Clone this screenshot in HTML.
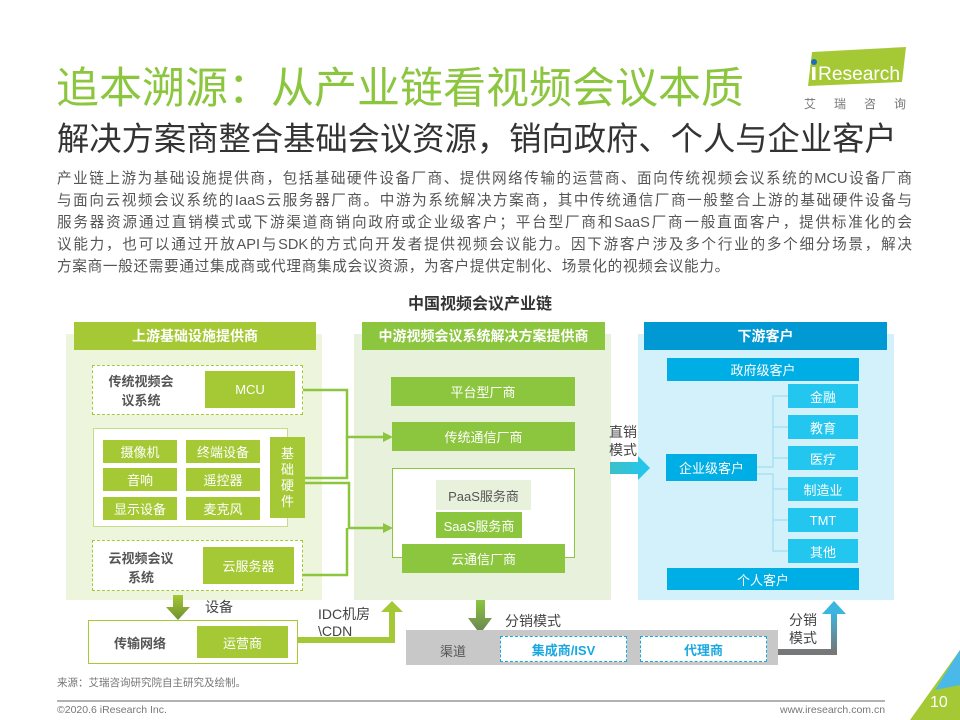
<!DOCTYPE html>
<html><head><meta charset="utf-8">
<style>
*{margin:0;padding:0;box-sizing:border-box}
body{width:960px;height:720px;position:relative;overflow:hidden;background:#fff;font-family:"Liberation Sans","Noto Sans CJK SC",sans-serif}
.a{position:absolute}
.b{position:absolute;display:flex;align-items:center;justify-content:center;color:#fff;font-size:13px;text-align:center}
.g1{background:#a5c935}
.g2{background:#8cc63f}
.bl{background:#00aee6}
.bl2{background:#22c6ef}
.t{position:absolute;color:#555;font-size:13px;font-weight:bold;text-align:center;line-height:19px}
.p div{text-align:justify;text-align-last:justify;white-space:nowrap;height:22px}
</style></head><body>
<div class="a" style="left:56px;top:54px;font-size:43px;color:#8cc63f;white-space:nowrap">追本溯源：从产业链看视频会议本质</div>
<div class="a" style="left:57px;top:114px;font-size:32.3px;color:#333;white-space:nowrap">解决方案商整合基础会议资源，销向政府、个人与企业客户</div>
<!-- logo -->
<svg class="a" style="left:790px;top:44px" width="130" height="70">
<polygon points="22,8 116,3 112,38 18,42" fill="#a5c935"/>
<circle cx="24" cy="18" r="3" fill="#1e6fb5"/>
<rect x="22" y="23" width="3.5" height="13" fill="#fff"/>
<text x="28" y="36" font-family="Liberation Sans" font-size="19" fill="#fff" textLength="82" lengthAdjust="spacingAndGlyphs">Research</text>
<text x="14" y="64" font-family="Noto Sans CJK SC" font-size="12" fill="#777" letter-spacing="18">艾瑞咨询</text>
</svg>
<div class="a p" style="left:57px;top:168px;width:855px;font-size:14.6px;line-height:22px;color:#555">
<div>产业链上游为基础设施提供商，包括基础硬件设备厂商、提供网络传输的运营商、面向传统视频会议系统的MCU设备厂商</div>
<div>与面向云视频会议系统的IaaS云服务器厂商。中游为系统解决方案商，其中传统通信厂商一般整合上游的基础硬件设备与</div>
<div>服务器资源通过直销模式或下游渠道商销向政府或企业级客户；平台型厂商和SaaS厂商一般直面客户，提供标准化的会</div>
<div>议能力，也可以通过开放API与SDK的方式向开发者提供视频会议能力。因下游客户涉及多个行业的多个细分场景，解决</div>
<div style="text-align-last:left;letter-spacing:0.7px">方案商一般还需要通过集成商或代理商集成会议资源，为客户提供定制化、场景化的视频会议能力。</div>
</div>
<div class="a" style="left:0;width:960px;top:290px;text-align:center;font-size:16px;font-weight:bold;color:#333">中国视频会议产业链</div>

<div class="a" style="left:66px;top:334px;width:256px;height:266px;background:#eef5dd"></div>
<div class="b g1" style="left:74px;top:322px;width:242px;height:28px;font-weight:bold;font-size:14px">上游基础设施提供商</div>
<div class="a" style="left:354px;top:334px;width:257px;height:266px;background:#e8f1dc"></div>
<div class="b g2" style="left:362px;top:322px;width:243px;height:28px;font-weight:bold;font-size:14px">中游视频会议系统解决方案提供商</div>
<div class="a" style="left:638px;top:334px;width:256px;height:266px;background:#d2f1fb"></div>
<div class="b" style="left:644px;top:322px;width:243px;height:28px;background:#0099d4;font-weight:bold;font-size:14px">下游客户</div>

<svg class="a" style="left:0;top:0" width="960" height="720">
<g stroke="#8cc63f" stroke-width="2.5" fill="none">
<polyline points="303,390 347,390 347,437 390,437"/>
<polyline points="305,478 347,478 347,437"/>
<polyline points="305,483 349,483 349,528 390,528"/>
<polyline points="303,575 347,575 347,528"/>
</g>
<polygon points="393,437 383,432 383,442" fill="#8cc63f"/>
<polygon points="393,528 383,523 383,533" fill="#8cc63f"/>
<defs>
<linearGradient id="gd" x1="0" y1="0" x2="0" y2="1"><stop offset="0" stop-color="#a5c935"/><stop offset="1" stop-color="#6f8f30"/></linearGradient>
<linearGradient id="gm" x1="0" y1="0" x2="0" y2="1"><stop offset="0" stop-color="#8cc63f"/><stop offset="1" stop-color="#6a7f55"/></linearGradient>
<linearGradient id="gr" x1="0" y1="0" x2="1" y2="0"><stop offset="0" stop-color="#3cc0c8"/><stop offset="1" stop-color="#22c6ef"/></linearGradient>
<linearGradient id="gu" x1="0" y1="1" x2="0" y2="0"><stop offset="0" stop-color="#777"/><stop offset="1" stop-color="#3ab6e0"/></linearGradient>
</defs>
<polygon points="173,595 183,595 183,607 190,607 178,620 166,607 173,607" fill="url(#gd)"/>
<polyline points="298,640 392,640 392,605" stroke="#a5c935" stroke-width="6" fill="none"/>
<polygon points="392,601 381,612 403,612" fill="#a5c935"/>
<polygon points="476,600 485,600 485,618 492,618 480,634 468,618 476,618" fill="url(#gm)"/>
<polygon points="610,462 638,462 638,456 650,468 638,480 638,474 610,474" fill="url(#gr)"/>
<polyline points="778,652 834,652 834,612" stroke="url(#gu)" stroke-width="6" fill="none"/>
<polygon points="834,601 822,614 846,614" fill="#3ab6e0"/>
<g stroke="#a8e3f3" stroke-width="1.5" fill="none">
<polyline points="757,467 773,467 773,396 788,396"/>
<polyline points="757,474 773,474 773,551 788,551"/>
<line x1="773" y1="427" x2="788" y2="427"/><line x1="773" y1="458" x2="788" y2="458"/>
<line x1="773" y1="489" x2="788" y2="489"/><line x1="773" y1="520" x2="788" y2="520"/>
</g>
<polygon points="960,650 960,720 910,720" fill="#a5c935"/>
<polygon points="960,650 935,690 960,685" fill="#4ab8e8"/>
<line x1="57" y1="701" x2="885" y2="701" stroke="#999" stroke-width="1.5"/>
</svg>

<div class="a" style="left:92px;top:365px;width:211px;height:50px;border:1.5px dashed #a5c935;background:#fff"></div>
<div class="t" style="left:100px;top:372px;width:82px">传统视频会<br>议系统</div>
<div class="b g1" style="left:205px;top:371px;width:90px;height:37px">MCU</div>
<div class="a" style="left:93px;top:428px;width:195px;height:99px;border:1.5px solid #c6dc8a;background:#fff"></div>
<div class="b g1" style="left:103px;top:440px;width:74px;height:23px">摄像机</div>
<div class="b g1" style="left:186px;top:440px;width:74px;height:23px">终端设备</div>
<div class="b g1" style="left:103px;top:468px;width:74px;height:23px">音响</div>
<div class="b g1" style="left:186px;top:468px;width:74px;height:23px">遥控器</div>
<div class="b g1" style="left:103px;top:497px;width:74px;height:23px">显示设备</div>
<div class="b g1" style="left:186px;top:497px;width:74px;height:23px">麦克风</div>
<div class="b g1" style="left:270px;top:437px;width:35px;height:81px;line-height:16px">基<br>础<br>硬<br>件</div>
<div class="a" style="left:92px;top:540px;width:211px;height:51px;border:1.5px dashed #a5c935;background:#fff"></div>
<div class="t" style="left:100px;top:549px;width:82px">云视频会议<br>系统</div>
<div class="b g1" style="left:203px;top:547px;width:91px;height:37px">云服务器</div>
<div class="a" style="left:205px;top:597px;font-size:14px;color:#444">设备</div>
<div class="a" style="left:88px;top:620px;width:210px;height:44px;border:1.5px solid #a5c935;background:#fff"></div>
<div class="t" style="left:100px;top:634px;width:80px">传输网络</div>
<div class="b g1" style="left:197px;top:626px;width:91px;height:32px">运营商</div>
<div class="a" style="left:318px;top:606px;font-size:14px;color:#444;line-height:17px">IDC机房<br>\CDN</div>

<div class="b g2" style="left:391px;top:377px;width:184px;height:29px">平台型厂商</div>
<div class="b g2" style="left:392px;top:422px;width:183px;height:29px">传统通信厂商</div>
<div class="a" style="left:392px;top:468px;width:183px;height:90px;border:1.5px solid #8cc63f;background:#fff"></div>
<div class="b" style="left:436px;top:480px;width:95px;height:30px;background:#e8f1dc;color:#555">PaaS服务商</div>
<div class="b g2" style="left:436px;top:512px;width:86px;height:26px">SaaS服务商</div>
<div class="b g2" style="left:402px;top:544px;width:163px;height:29px">云通信厂商</div>
<div class="a" style="left:609px;top:423px;font-size:14px;color:#444;line-height:18px">直销<br>模式</div>
<div class="a" style="left:505px;top:611px;font-size:14px;color:#444">分销模式</div>

<div class="a" style="left:406px;top:630px;width:372px;height:35px;background:#c8c8c8"></div>
<div class="a" style="left:440px;top:641px;font-size:13px;color:#555">渠道</div>
<div class="b" style="left:500px;top:636px;width:127px;height:26px;background:#fff;border:1.5px dashed #1aa8e0;color:#1aa8e0;font-weight:bold">集成商/ISV</div>
<div class="b" style="left:640px;top:636px;width:127px;height:26px;background:#fff;border:1.5px dashed #1aa8e0;color:#1aa8e0;font-weight:bold">代理商</div>
<div class="a" style="left:789px;top:611px;font-size:14px;color:#444;line-height:18px">分销<br>模式</div>

<div class="b bl" style="left:667px;top:358px;width:192px;height:23px">政府级客户</div>
<div class="b bl2" style="left:788px;top:384px;width:70px;height:24px">金融</div>
<div class="b bl2" style="left:788px;top:415px;width:70px;height:24px">教育</div>
<div class="b bl2" style="left:788px;top:446px;width:70px;height:24px">医疗</div>
<div class="b bl2" style="left:788px;top:477px;width:70px;height:24px">制造业</div>
<div class="b bl2" style="left:788px;top:508px;width:70px;height:24px">TMT</div>
<div class="b bl2" style="left:788px;top:539px;width:70px;height:24px">其他</div>
<div class="b bl" style="left:666px;top:454px;width:91px;height:27px">企业级客户</div>
<div class="b bl" style="left:667px;top:568px;width:192px;height:22px">个人客户</div>

<div class="a" style="left:57px;top:675px;font-size:10.5px;color:#777">来源：艾瑞咨询研究院自主研究及绘制。</div>
<div class="a" style="left:57px;top:704px;font-size:10.5px;color:#777">©2020.6 iResearch Inc.</div>
<div class="a" style="left:780px;top:704px;width:104px;text-align:right;font-size:10.5px;color:#777">www.iresearch.com.cn</div>
<div class="a" style="left:930px;top:694px;font-size:16px;color:#fff">10</div>
</body></html>
